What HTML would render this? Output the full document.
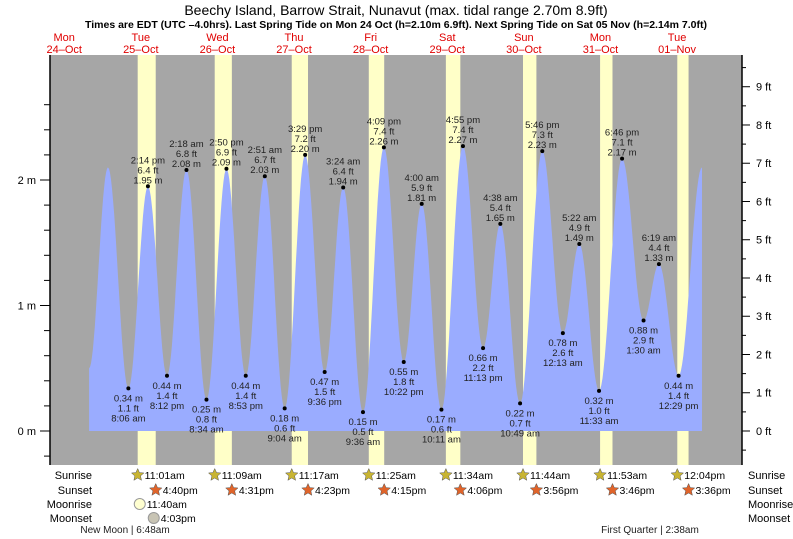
<!DOCTYPE html>
<html><head><meta charset="utf-8"><style>
body{margin:0;background:#fff;}
svg{display:block;font-family:"Liberation Sans",sans-serif;}
</style></head><body>
<svg id="chart" width="793" height="539" viewBox="0 0 793 539">
<text x="396" y="15" text-anchor="middle" font-size="14" fill="#000">Beechy Island, Barrow Strait, Nunavut (max. tidal range 2.70m 8.9ft)</text>
<text x="396" y="28" text-anchor="middle" font-size="10.5" font-weight="bold" fill="#000">Times are EDT (UTC –4.0hrs). Last Spring Tide on Mon 24 Oct (h=2.10m 6.9ft). Next Spring Tide on Sat 05 Nov (h=2.14m 7.0ft)</text>
<rect x="50" y="55" width="692" height="410" fill="#a6a6a6"/>
<g id="bands"></g><g id="tide"></g><g id="axes"></g><g id="labels"></g><g id="astro"></g>
<text x="125" y="533" text-anchor="middle" font-size="10" fill="#222">New Moon | 6:48am</text>
<text x="650" y="533" text-anchor="middle" font-size="10" fill="#222">First Quarter | 2:38am</text>
</svg>
<script>
// hours since Oct 24 00:00
const eventTimes=[19.8,25.7,32.1,38.23,44.2,50.3,56.57,62.83,68.88,74.85,81.07,87.48,93.6,99.4,105.6,112.15,118.37,124,130.18,136.92,143.22,148.63,154.82,161.77,168.22,173.37,179.55,186.77,193.5,198.32,204.48,211.8];
const eventHeights=[0.5,2.10,0.34,1.95,0.44,2.08,0.25,2.09,0.44,2.03,0.18,2.20,0.47,1.94,0.15,2.26,0.55,1.81,0.17,2.27,0.66,1.65,0.22,2.23,0.78,1.49,0.32,2.17,0.88,1.33,0.44,2.10];
const eventLabels=[null,null,"8:06 am","2:14 pm","8:12 pm","2:18 am","8:34 am","2:50 pm","8:53 pm","2:51 am","9:04 am","3:29 pm","9:36 pm","3:24 am","9:36 am","4:09 pm","10:22 pm","4:00 am","10:11 am","4:55 pm","11:13 pm","4:38 am","10:49 am","5:46 pm","12:13 am","5:22 am","11:33 am","6:46 pm","1:30 am","6:19 am","12:29 pm",null];
const eventFeet=[null,null,"1.1","6.4","1.4","6.8","0.8","6.9","1.4","6.7","0.6","7.2","1.5","6.4","0.5","7.4","1.8","5.9","0.6","7.4","2.2","5.4","0.7","7.3","2.6","4.9","1.0","7.1","2.9","4.4","1.4",null];
const dayNames=["Mon","Tue","Wed","Thu","Fri","Sat","Sun","Mon","Tue"];
const dayDates=["24–Oct","25–Oct","26–Oct","27–Oct","28–Oct","29–Oct","30–Oct","31–Oct","01–Nov"];
const sunriseTimes=[35.02,59.15,83.28,107.42,131.57,155.73,179.88,204.07];
const sunriseLabels=["11:01am","11:09am","11:17am","11:25am","11:34am","11:44am","11:53am","12:04pm"];
const sunsetTimes=[40.67,64.52,88.38,112.25,136.1,159.93,183.77,207.6];
const sunsetLabels=["4:40pm","4:31pm","4:23pm","4:15pm","4:06pm","3:56pm","3:46pm","3:36pm"];
const moonriseTimes=[35.67];const moonriseLabels=["11:40am"];
const moonsetTimes=[40.05];const moonsetLabels=["4:03pm"];
const mTicks=[0,1,2];
const ftTicks=[0,1,2,3,4,5,6,7,8,9];

const NS="http://www.w3.org/2000/svg";
const X=t=>25.9+3.192*t;
const Y=h=>431-125.5*h;
function mk(tag,attrs,parent,txt){const e=document.createElementNS(NS,tag);for(const k in attrs)e.setAttribute(k,attrs[k]);if(txt!=null)e.textContent=txt;parent.appendChild(e);return e;}
const bands=document.getElementById('bands'),tide=document.getElementById('tide'),axes=document.getElementById('axes'),labels=document.getElementById('labels'),astro=document.getElementById('astro');
// daylight
for(let i=0;i<sunriseTimes.length;i++){
 const r=mk('rect',{x:X(sunriseTimes[i]),y:55,width:X(sunsetTimes[i])-X(sunriseTimes[i]),height:410,fill:'#ffffc8'},bands);
 
 
}
// tide curve
let d="M"+X(eventTimes[0]).toFixed(1)+","+Y(0).toFixed(1);
for(let i=0;i<eventTimes.length-1;i++){
 const t0=eventTimes[i],t1=eventTimes[i+1],h0=eventHeights[i],h1=eventHeights[i+1];
 for(let k=0;k<=20;k++){const f=k/20,t=t0+(t1-t0)*f,h=h0+(h1-h0)*(1-Math.cos(Math.PI*f))/2;d+=" L"+X(t).toFixed(1)+","+Y(h).toFixed(1);}
}
d+=" L"+X(eventTimes[eventTimes.length-1]).toFixed(1)+","+Y(0).toFixed(1)+"Z";
const area=mk('path',{d:d,fill:'#9aacff'},tide);


// event labels
for(let i=0;i<eventTimes.length;i++){
 if(!eventLabels[i])continue;
 const x=X(eventTimes[i]),y=Y(eventHeights[i]);
 const high=eventHeights[i]>eventHeights[i-1];
 const dot=mk('circle',{cx:x,cy:y,r:2,fill:'#000'},labels);
 
 
 const g=mk('text',{x:x,'text-anchor':'middle','font-size':'9.5',fill:'#222'},labels);
 
 
 const lines=high?[eventLabels[i],eventFeet[i]+" ft",eventHeights[i].toFixed(2)+" m"]:[eventHeights[i].toFixed(2)+" m",eventFeet[i]+" ft",eventLabels[i]];
 const y0=high?y-23:y+13;
 lines.forEach((s,j)=>mk('tspan',{x:x,y:y0+j*10},g,s));
}
// axes
mk('line',{x1:50,y1:55,x2:50,y2:465,stroke:'#000','stroke-width':1.5},axes);
mk('line',{x1:742,y1:55,x2:742,y2:465,stroke:'#000','stroke-width':1.5},axes);
for(let v=-0.2;v<=2.8;v+=0.2){const y=Y(v);if(y<56||y>464)continue;mk('line',{x1:44,y1:y,x2:50,y2:y,stroke:'#000'},axes);}
mTicks.forEach(v=>{const y=Y(v);mk('line',{x1:40,y1:y,x2:50,y2:y,stroke:'#000'},axes);
 const t=mk('text',{x:36,y:y+4,'text-anchor':'end','font-size':'11',fill:'#000'},axes,v+" m");
 
 });
const FT=0.3048;
for(let v=-0.5;v<=9.5;v+=0.5){const y=Y(v*FT);if(y<56||y>464)continue;mk('line',{x1:742,y1:y,x2:v%1===0?750:746,y2:y,stroke:'#000'},axes);}
ftTicks.forEach(v=>{const y=Y(v*FT);
 const t=mk('text',{x:756,y:y+4,'font-size':'11',fill:'#000'},axes,v+" ft");
 
 });
// day labels
for(let i=0;i<dayNames.length;i++){
 const x=X(12+24*i);
 const t=mk('text',{x:x,'text-anchor':'middle','font-size':'11',fill:'#e00000'},axes);
 
 
 mk('tspan',{x:x,y:41},t,dayNames[i]);mk('tspan',{x:x,y:53},t,dayDates[i]);
}
// astro rows
[["Sunrise",479],["Sunset",494],["Moonrise",508],["Moonset",522]].forEach(([s,y])=>{
 const a=mk('text',{x:92,y:y,'text-anchor':'end','font-size':'11',fill:'#000'},astro,s);
 
 const b=mk('text',{x:748,y:y,'font-size':'11',fill:'#000'},astro,s);
 
});
function star(cx,cy,fill){let p="";for(let k=0;k<10;k++){const r=k%2?3:6.5,a=-Math.PI/2+k*Math.PI/5;p+=(cx+r*Math.cos(a)).toFixed(1)+","+(cy+r*Math.sin(a)).toFixed(1)+" ";}return mk('polygon',{points:p,fill:fill,stroke:'#555','stroke-width':0.5},astro);}
for(let i=0;i<sunriseTimes.length;i++){
 const x=X(sunriseTimes[i]);const s=star(x,475,'#c8b432');
 
 const t=mk('text',{x:x+7,y:479,'font-size':'10.5',fill:'#000'},astro,sunriseLabels[i]);
 
 const x2=X(sunsetTimes[i]);const s2=star(x2,490,'#e0642a');
 
 const t2=mk('text',{x:x2+7,y:494,'font-size':'10.5',fill:'#000'},astro,sunsetLabels[i]);
 
}
moonriseTimes.forEach((m,i)=>{const x=X(m);const c=mk('circle',{cx:x,cy:504,r:5.5,fill:'#ffffd0',stroke:'#999'},astro);
 
 const t=mk('text',{x:x+7,y:508,'font-size':'10.5',fill:'#000'},astro,moonriseLabels[i]);
 });
moonsetTimes.forEach((m,i)=>{const x=X(m);const c=mk('circle',{cx:x,cy:518,r:5.5,fill:'#c8c4b4',stroke:'#999'},astro);
 
 const t=mk('text',{x:x+7,y:522,'font-size':'10.5',fill:'#000'},astro,moonsetLabels[i]);
 });
</script>
</body></html>
